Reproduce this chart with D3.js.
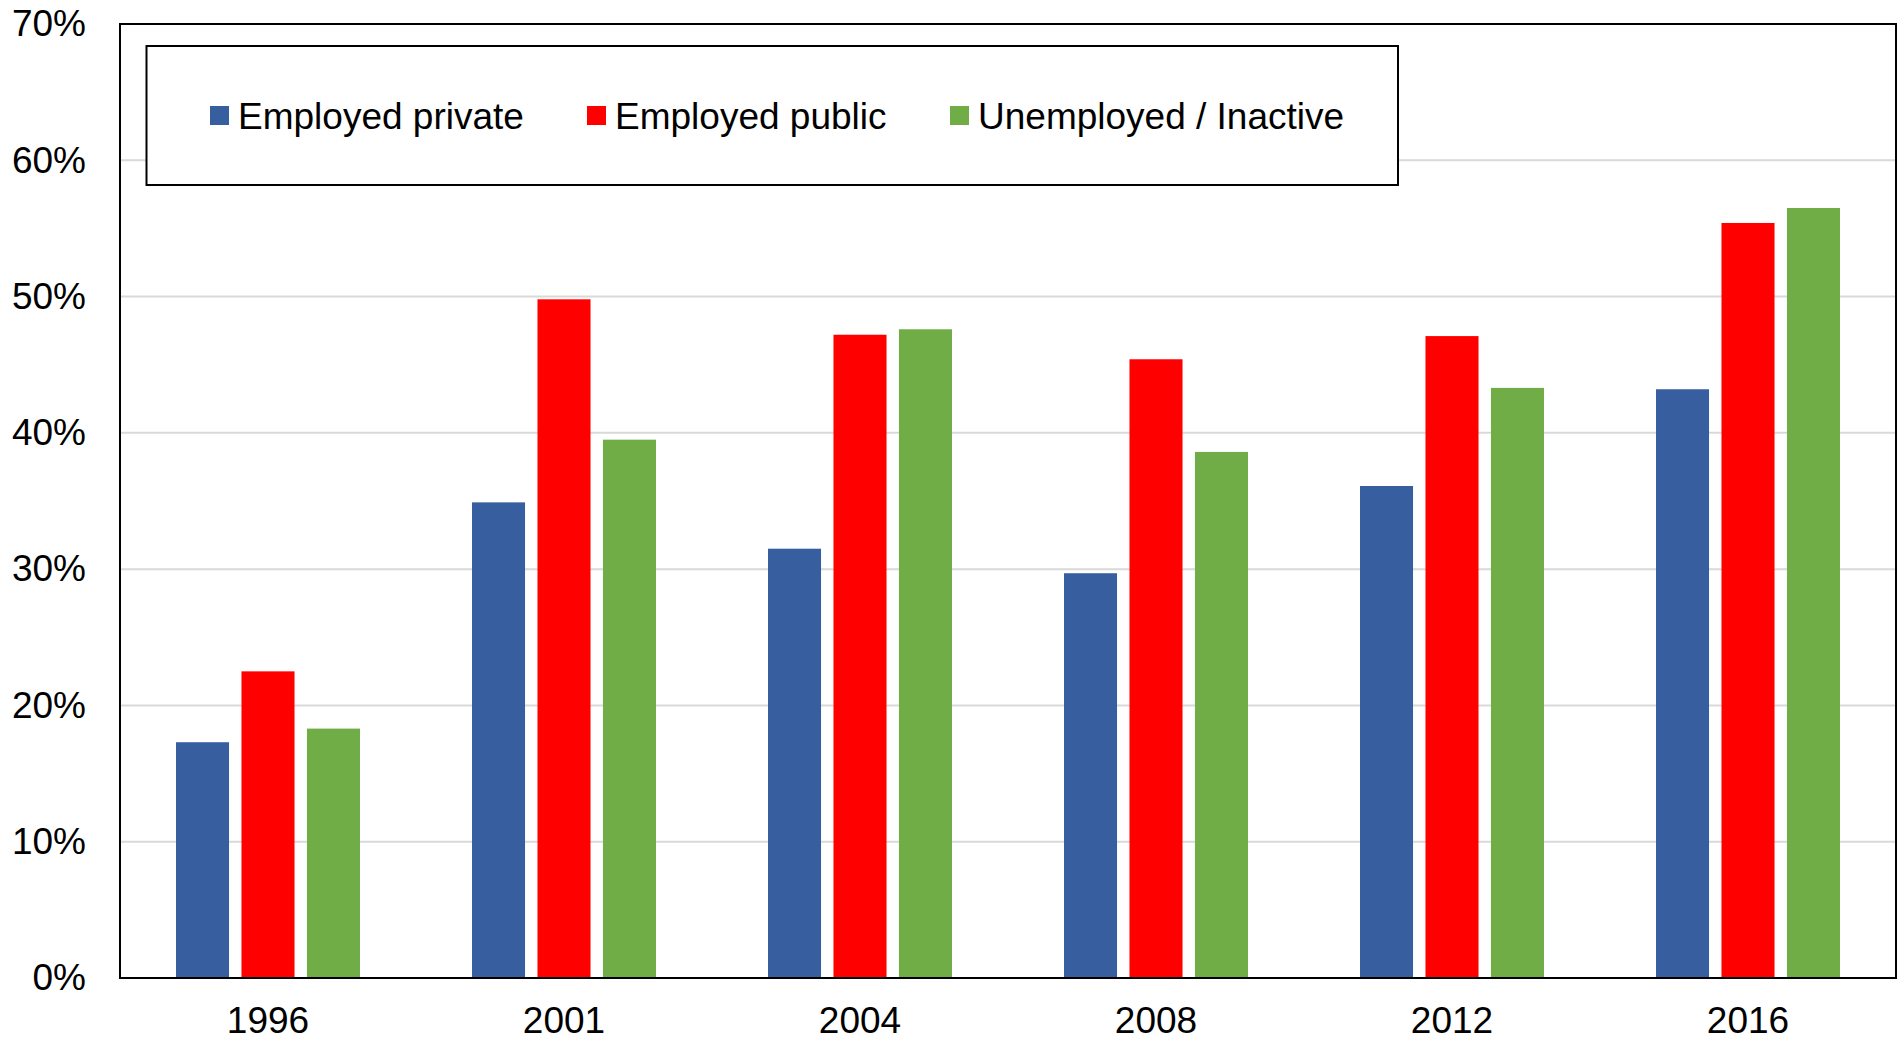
<!DOCTYPE html>
<html>
<head>
<meta charset="utf-8">
<script src="https://cdn.jsdelivr.net/npm/d3@7"></script>
<style>
  body { margin: 0; background: #fff; }
  text { font-family: "Liberation Sans", Arial, sans-serif; }
</style>
</head>
<body>
<svg id="chart"></svg>
<script>
// data
const years = ["1996", "2001", "2004", "2008", "2012", "2016"];
const seriesNames = ["Employed private", "Employed public", "Unemployed / Inactive"];
const employedPrivate = [17.3, 34.9, 31.5, 29.7, 36.1, 43.2];
const employedPublic = [22.5, 49.8, 47.2, 45.4, 47.1, 55.4];
const unemployedInactive = [18.3, 39.5, 47.6, 38.6, 43.3, 56.5];
const yTicks = [0, 10, 20, 30, 40, 50, 60, 70];

const colors = ["#375e9f", "#ff0000", "#70ad47"];
const allSeries = [employedPrivate, employedPublic, unemployedInactive];

const width = 1898, height = 1041;
const margin = {top: 24, right: 2, bottom: 63, left: 120};
const fontSize = 37;

const svg = d3.select("#chart").attr("width", width).attr("height", height);

const x0 = d3.scaleBand()
    .domain(years)
    .range([margin.left, width - margin.right]);

// bars inside one year group
const x1 = d3.scaleBand()
    .domain(seriesNames)
    .range([-92, 92])
    .paddingInner(0.19);

const y = d3.scaleLinear()
    .domain([0, 70])
    .range([height - margin.bottom, margin.top]);

// grid lines
svg.append("g")
    .selectAll("line")
    .data(yTicks.filter(t => t > 0 && t < 70)).enter()
    .append("line")
    .attr("x1", margin.left)
    .attr("x2", width - margin.right)
    .attr("y1", d => y(d))
    .attr("y2", d => y(d))
    .attr("stroke", "#d9d9d9")
    .attr("stroke-width", 2);

// bars
const rows = years.map((yr, i) => ({year: yr, vals: allSeries.map((s, k) => ({name: seriesNames[k], v: s[i], k: k}))}));

svg.append("g")
    .selectAll("g")
    .data(rows).enter()
    .append("g")
    .attr("transform", d => `translate(${x0(d.year) + x0.bandwidth() / 2},0)`)
    .selectAll("rect")
    .data(d => d.vals).enter()
    .append("rect")
    .attr("x", d => x1(d.name))
    .attr("width", x1.bandwidth())
    .attr("y", d => y(d.v))
    .attr("height", d => y(0) - y(d.v))
    .attr("fill", d => colors[d.k]);

// plot frame
svg.append("rect")
    .attr("x", margin.left)
    .attr("y", margin.top)
    .attr("width", width - margin.right - margin.left)
    .attr("height", height - margin.bottom - margin.top)
    .attr("fill", "none")
    .attr("stroke", "#000")
    .attr("stroke-width", 2);

// y axis labels
const yAxis = d3.axisLeft(y)
    .tickValues(yTicks)
    .tickSize(0)
    .tickPadding(34)
    .tickFormat(d => d + "%");
svg.append("g")
    .attr("transform", `translate(${margin.left},0)`)
    .call(yAxis)
    .call(g => g.select(".domain").remove())
    .selectAll("text")
    .attr("font-size", fontSize)
    .attr("font-family", "Liberation Sans, Arial, sans-serif")
    .attr("fill", "#000");

// x axis labels
const xAxis = d3.axisBottom(x0).tickSize(0).tickPadding(29);
svg.append("g")
    .attr("transform", `translate(0,${height - margin.bottom})`)
    .call(xAxis)
    .call(g => g.select(".domain").remove())
    .selectAll("text")
    .attr("font-size", fontSize)
    .attr("font-family", "Liberation Sans, Arial, sans-serif")
    .attr("fill", "#000");

// legend
const legend = svg.append("g");
legend.append("rect")
    .attr("x", 146.5)
    .attr("y", 46)
    .attr("width", 1251.5)
    .attr("height", 139)
    .attr("fill", "#fff")
    .attr("stroke", "#000")
    .attr("stroke-width", 2);

const legendX = [210, 587, 950];
const item = legend.selectAll("g.item")
    .data(seriesNames).enter()
    .append("g")
    .attr("class", "item")
    .attr("transform", (d, i) => `translate(${legendX[i]},115.5)`);
item.append("rect")
    .attr("x", 0)
    .attr("y", -9.5)
    .attr("width", 19)
    .attr("height", 19)
    .attr("fill", (d, i) => colors[i]);
item.append("text")
    .attr("x", 28)
    .attr("y", 13)
    .attr("font-size", fontSize)
    .attr("fill", "#000")
    .text(d => d);
</script>
</body>
</html>
